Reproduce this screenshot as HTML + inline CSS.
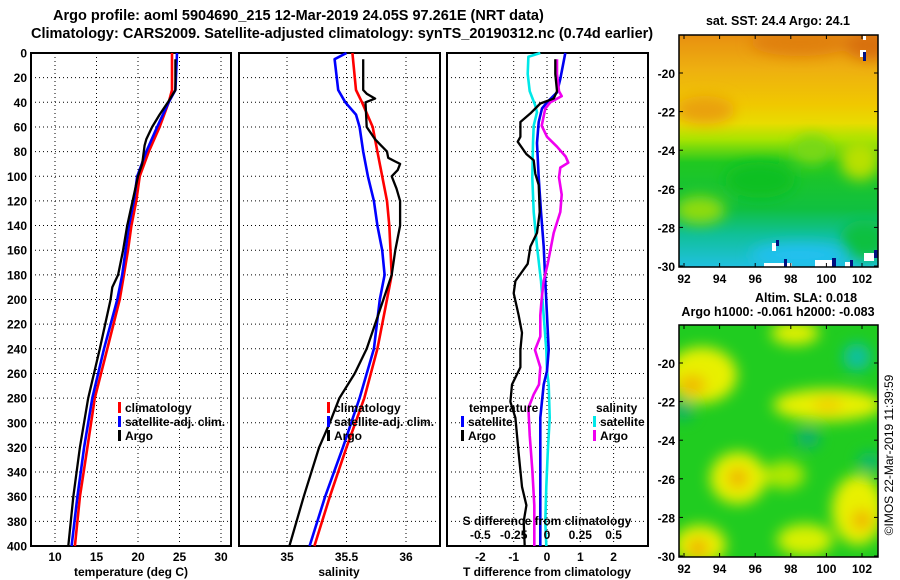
<!DOCTYPE html>
<html><head><meta charset="utf-8"><style>
body{margin:0;background:#fff}
svg{display:block;font-family:"Liberation Sans",sans-serif;font-weight:bold}
text{fill:#000}
</style></head><body>
<svg id="c" width="900" height="580" viewBox="0 0 900 580" xmlns="http://www.w3.org/2000/svg">
<defs>
<filter id="bl" x="-50%" y="-50%" width="200%" height="200%"><feGaussianBlur stdDeviation="7"/></filter>
<filter id="bl2" x="-50%" y="-50%" width="200%" height="200%"><feGaussianBlur stdDeviation="4"/></filter>
<clipPath id="cm1"><rect x="679" y="35" width="199" height="232"/></clipPath>
<clipPath id="cm2"><rect x="679" y="325" width="199" height="232"/></clipPath>
<linearGradient id="sst" x1="0" y1="0" x2="0" y2="1">
<stop offset="0" stop-color="#e89010"/><stop offset="0.15" stop-color="#eeb010"/><stop offset="0.3" stop-color="#f0c800"/>
<stop offset="0.38" stop-color="#e8dc00"/><stop offset="0.45" stop-color="#a8e400"/><stop offset="0.55" stop-color="#20c820"/>
<stop offset="0.75" stop-color="#10c040"/><stop offset="0.86" stop-color="#10c098"/><stop offset="1" stop-color="#20c0e0"/>
</linearGradient>
</defs>
<text x="53" y="20" font-size="14.5">Argo profile: aoml 5904690_215 12-Mar-2019 24.05S 97.261E (NRT data)</text>
<text x="31" y="38" font-size="14.5">Climatology: CARS2009. Satellite-adjusted climatology: synTS_20190312.nc (0.74d earlier)</text>
<g id="g"></g>
<g clip-path="url(#cm1)">
<rect x="679" y="35" width="199" height="232" fill="url(#sst)"/>
<g filter="url(#bl)">
<ellipse cx="800" cy="42" rx="50" ry="14" fill="#e08010"/>
<ellipse cx="870" cy="45" rx="25" ry="15" fill="#d87010"/>
<ellipse cx="705" cy="110" rx="30" ry="14" fill="#eaa010"/>
<ellipse cx="700" cy="210" rx="25" ry="14" fill="#90dc10"/>
<ellipse cx="760" cy="180" rx="35" ry="18" fill="#10c020"/>
<ellipse cx="812" cy="150" rx="20" ry="15" fill="#78d818"/>
<ellipse cx="860" cy="160" rx="20" ry="20" fill="#b8e000"/>
<ellipse cx="800" cy="255" rx="50" ry="12" fill="#20c0f0"/>
<ellipse cx="865" cy="240" rx="25" ry="20" fill="#10c040"/>
</g>
<rect x="860" y="50" width="6" height="7" fill="#fff"/><rect x="863" y="52" width="3" height="9" fill="#001080"/>
<rect x="863" y="36" width="3" height="4" fill="#fff"/>
<rect x="864" y="253" width="10" height="8" fill="#fff"/><rect x="874" y="250" width="4" height="8" fill="#001080"/>
<rect x="772" y="243" width="4" height="8" fill="#fff"/><rect x="776" y="240" width="3" height="6" fill="#001080"/>
<rect x="764" y="263" width="28" height="5" fill="#fff"/><rect x="784" y="259" width="3" height="8" fill="#001080"/>
<rect x="815" y="260" width="20" height="8" fill="#fff"/><rect x="832" y="258" width="4" height="9" fill="#001080"/>
<rect x="845" y="262" width="8" height="5" fill="#fff"/><rect x="850" y="260" width="3" height="7" fill="#001080"/>
</g>
<g clip-path="url(#cm2)">
<rect x="679" y="325" width="199" height="232" fill="#20cc20"/>
<g filter="url(#bl)">
<ellipse cx="702" cy="375" rx="35" ry="28" fill="#e8f000"/>
<ellipse cx="692" cy="385" rx="14" ry="10" fill="#f0b800"/>
<ellipse cx="828" cy="405" rx="55" ry="16" fill="#e8f000"/>
<ellipse cx="828" cy="405" rx="15" ry="8" fill="#f0d000"/>
<ellipse cx="738" cy="478" rx="28" ry="26" fill="#e8f000"/>
<ellipse cx="738" cy="478" rx="10" ry="10" fill="#f0b000"/>
<ellipse cx="858" cy="510" rx="26" ry="35" fill="#e8f000"/>
<ellipse cx="862" cy="520" rx="10" ry="10" fill="#f0b000"/>
<ellipse cx="700" cy="545" rx="26" ry="20" fill="#e8f000"/>
<ellipse cx="698" cy="548" rx="10" ry="9" fill="#f0a800"/>
<ellipse cx="795" cy="333" rx="24" ry="12" fill="#e0f000"/>
<ellipse cx="805" cy="540" rx="28" ry="16" fill="#d8f000"/>
<ellipse cx="785" cy="475" rx="20" ry="14" fill="#b0e800"/>
<ellipse cx="857" cy="357" rx="14" ry="14" fill="#10c0a0"/>
<ellipse cx="808" cy="438" rx="12" ry="10" fill="#10b070"/>
<ellipse cx="683" cy="410" rx="10" ry="10" fill="#10b070"/>
<ellipse cx="870" cy="462" rx="12" ry="10" fill="#10b870"/>
</g>
</g>
<g id="m"></g>
<text x="778" y="25" font-size="12.5" text-anchor="middle">sat. SST: 24.4 Argo: 24.1</text>
<text x="755" y="302" font-size="12.5">Altim. SLA: 0.018</text>
<text x="778" y="316" font-size="12.5" text-anchor="middle">Argo h1000: -0.061 h2000: -0.083</text>
<text transform="translate(893,455) rotate(-90)" font-size="12" font-weight="normal" text-anchor="middle">©IMOS 22-Mar-2019 11:39:59</text>
</svg>
<script>
// ---- data ----
const depthTicks=[0,20,40,60,80,100,120,140,160,180,200,220,240,260,280,300,320,340,360,380,400];
const tTicks=[10,15,20,25,30];
const sTicks=[35,35.5,36];
const sTickLabels=["35","35.5","36"];
const dTTicks=[-2,-1,0,1,2];
const dSTicks=[-0.5,-0.25,0,0.25,0.5];
const dSTickLabels=["-0.5","-0.25","0","0.25","0.5"];
const lonTicks=[92,94,96,98,100,102];
const latTicks=[-20,-22,-24,-26,-28,-30];
const tClimDepth=[0,30,40,60,80,100,120,140,160,180,200,240,280,320,360,400];
const tClim=[24.1,24.1,23.7,22.6,21.3,20.2,19.8,19.2,18.8,18.3,17.8,16.3,14.8,13.9,13.0,12.4];
const tSat=[24.7,24.5,23.7,22.3,21.0,19.9,19.5,18.9,18.5,18.1,17.5,15.9,14.5,13.5,12.7,12.0];
const tArgoDepth=[5,30,40,50,60,70,75,90,100,140,160,180,190,200,240,280,320,360,400];
const tArgo=[24.5,24.5,23.6,22.6,21.7,21.0,20.8,20.5,20.0,18.7,18.2,17.6,16.9,16.7,15.4,14.0,13.0,12.2,11.6];
const sClimDepth=[0,30,40,60,80,100,120,140,160,180,200,240,280,320,360,400];
const sClim=[35.55,35.58,35.63,35.72,35.76,35.80,35.84,35.86,35.87,35.88,35.84,35.76,35.65,35.50,35.36,35.23];
const sSatDepth=[0,5,30,40,50,60,80,100,120,140,160,180,200,240,280,320,360,400];
const sSat=[35.50,35.40,35.43,35.49,35.58,35.61,35.64,35.68,35.73,35.76,35.80,35.82,35.78,35.73,35.61,35.47,35.32,35.19];
const sArgoDepth=[5,30,33,37,40,60,70,80,85,88,90,95,100,110,120,140,160,180,200,220,240,260,280,300,320,360,400];
const sArgo=[35.64,35.64,35.67,35.74,35.66,35.67,35.74,35.84,35.85,35.91,35.95,35.93,35.88,35.92,35.95,35.95,35.91,35.88,35.81,35.74,35.67,35.57,35.44,35.36,35.27,35.14,35.02];
const dTSatDepth=[0,21,32,40,45,56,73,101,129,157,185,213,241,258,269,296,325,352,380,400];
const dTSat=[0.55,0.4,0.3,0,-0.15,-0.25,-0.3,-0.25,-0.18,-0.1,-0.05,0,0.05,0,-0.1,-0.2,-0.2,-0.2,-0.2,-0.2];
const dSSatDepth=[0,3,17,31,42,48,59,73,101,129,157,185,213,241,258,269,296,325,352,380,400];
const dSSat=[-0.05,-0.14,-0.145,-0.13,-0.09,-0.075,-0.1,-0.105,-0.11,-0.1,-0.075,-0.045,-0.025,-0.005,0,0.0125,0.02,0.005,-0.005,-0.0125,-0.005];
const dTArgoDepth=[5,17,31,37,41,49,56,68,72,82,87,98,107,129,146,157,171,185,195,213,227,241,255,269,283,296,325,352,367,380,400];
const dTArgo=[0.25,0.25,0.3,0.2,-0.2,-0.5,-0.8,-0.8,-0.88,-0.62,-0.4,-0.35,-0.25,-0.22,-0.3,-0.5,-0.58,-0.95,-1.0,-0.85,-0.75,-0.8,-0.8,-1.05,-1.1,-0.95,-0.85,-0.75,-0.62,-0.7,-0.67];
const dSArgoDepth=[5,17,31,35,40,45,59,68,76,84,89,93,101,115,129,146,171,185,199,213,230,241,255,269,277,288,310,338,367,400];
const dSArgo=[0.075,0.075,0.09,0.11,0.025,-0.0125,-0.04,0,0.075,0.14,0.16,0.1,0.09,0.11,0.1,0.05,0.005,-0.025,-0.04,-0.05,-0.05,-0.09,-0.05,-0.06,-0.1,-0.14,-0.13,-0.11,-0.095,-0.095];

const NS='http://www.w3.org/2000/svg';
const G=document.getElementById('g');
const Y0=53,Y1=546;
const yD=d=>Y0+(Y1-Y0)*d/400;
const P1={l:31,r:231}, P2={l:239,r:440}, P3={l:447,r:648};
const xT=t=>55+(t-10)*8.3;
const xS=s=>287+(s-35)*119;
const xDT=v=>547+v*33.3;
const xDS=v=>547+v*133.2;
function mk(tag,attrs,parent){const e=document.createElementNS(NS,tag);for(const k in attrs)e.setAttribute(k,attrs[k]);(parent||G).appendChild(e);return e;}
function txt(x,y,s,size,anchor,parent){const e=mk('text',{x:x,y:y,'font-size':size,'text-anchor':anchor||'middle'},parent);e.textContent=s;return e;}

function panel(P,name,vgrid){
  const g=mk('g',{});
  
  
  depthTicks.forEach(d=>{const l=mk('line',{x1:P.l,x2:P.r,y1:yD(d),y2:yD(d),stroke:'#000','stroke-width':1,'stroke-dasharray':'1,3'},g);
    
    });
  vgrid.forEach(x=>{const l=mk('line',{x1:x,x2:x,y1:Y0,y2:Y1,stroke:'#000','stroke-width':1,'stroke-dasharray':'1,3'},g);
    
    });
  const b=mk('rect',{x:P.l,y:Y0,width:P.r-P.l,height:Y1-Y0,fill:'none',stroke:'#000','stroke-width':2},g);
  
  
  return g;
}
const g1=panel(P1,'temperature-panel',tTicks.map(xT));
const g2=panel(P2,'salinity-panel',sTicks.map(xS));
const g3=panel(P3,'difference-panel',dTTicks.map(xDT));
depthTicks.forEach(d=>{const t=txt(27,yD(d)+4.5,String(d),12,'end');
  
  });
tTicks.forEach(v=>{const t=txt(xT(v),561,String(v),12);
  
  });
sTicks.forEach((v,i)=>{const t=txt(xS(v),561,sTickLabels[i],12);
  
  });
dTTicks.forEach(v=>{const t=txt(xDT(v),561,String(v),12);
  
  });
dSTicks.forEach((v,i)=>{const t=txt(xDS(v),539,dSTickLabels[i],12);
  
  });
let t;
t=txt(131,576,'temperature (deg C)',12);
t=txt(339,576,'salinity',12);
t=txt(547,576,'T difference from climatology',12);
t=txt(547,525,'S difference from climatology',12);

function line(parent,xs,ds,xf,color,name,w){
  const pts=xs.map((v,i)=>xf(v).toFixed(1)+','+yD(ds[i]).toFixed(1)).join(' ');
  const p=mk('polyline',{points:pts,fill:'none',stroke:color,'stroke-width':w||2.6,'stroke-linejoin':'round'},parent);
  
  
}
line(g1,tClim,tClimDepth,xT,'#f00','temperature-climatology-line');
line(g1,tSat,tClimDepth,xT,'#00f','temperature-satellite-line');
line(g1,tArgo,tArgoDepth,xT,'#000','temperature-argo-line',2.3);
line(g2,sClim,sClimDepth,xS,'#f00','salinity-climatology-line');
line(g2,sSat,sSatDepth,xS,'#00f','salinity-satellite-line');
line(g2,sArgo,sArgoDepth,xS,'#000','salinity-argo-line',2.3);
line(g3,dSSat,dSSatDepth,xDS,'#00e8e8','s-diff-satellite-line');
line(g3,dTSat,dTSatDepth,xDT,'#0000f0','t-diff-satellite-line');
line(g3,dSArgo,dSArgoDepth,xDS,'#f000f0','s-diff-argo-line');
line(g3,dTArgo,dTArgoDepth,xDT,'#000','t-diff-argo-line',2.3);

function legend(x,y,color,label,name){
  const g=mk('g',{});
  
  
  mk('rect',{x:x,y:y-10,width:3,height:11,fill:color},g);
  txt(x+7,y,label,12,'start',g);
}
legend(118,412,'#f00','climatology','legend-climatology');
legend(118,426,'#00f','satellite-adj. clim.','legend-satellite-adj');
legend(118,440,'#000','Argo','legend-argo');
legend(327,412,'#f00','climatology','legend-climatology-salinity');
legend(327,426,'#00f','satellite-adj. clim.','legend-satellite-adj-salinity');
legend(327,440,'#000','Argo','legend-argo-salinity');
t=txt(469,412,'temperature',12,'start');
legend(461,426,'#00f','satellite','legend-t-satellite');
legend(461,440,'#000','Argo','legend-t-argo');
t=txt(596,412,'salinity',12,'start');
legend(593,426,'#00e8e8','satellite','legend-s-satellite');
legend(593,440,'#f000f0','Argo','legend-s-argo');

const M=document.getElementById('m');
const xLon=v=>684+(v-92)*17.8;
function mapAxes(top,name){
  const g=mk('g',{},M);
  
  
  const bottom=top+232;
  const yLat=v=>bottom-1-(v+30)*19.3;
  mk('rect',{x:679,y:top,width:199,height:232,fill:'none',stroke:'#000','stroke-width':1.5},g);
  lonTicks.forEach(v=>{mk('line',{x1:xLon(v),x2:xLon(v),y1:bottom,y2:bottom-4,stroke:'#000'},g);mk('line',{x1:xLon(v),x2:xLon(v),y1:top,y2:top+4,stroke:'#000'},g);
    txt(xLon(v),bottom+16,String(v),12,'middle',g);});
  latTicks.forEach(v=>{mk('line',{x1:679,x2:683,y1:yLat(v),y2:yLat(v),stroke:'#000'},g);mk('line',{x1:874,x2:878,y1:yLat(v),y2:yLat(v),stroke:'#000'},g);
    txt(675,yLat(v)+5,String(v),12,'end',g);});
}
mapAxes(35,'sst-map-axes');
mapAxes(325,'sla-map-axes');
</script>
</body></html>
